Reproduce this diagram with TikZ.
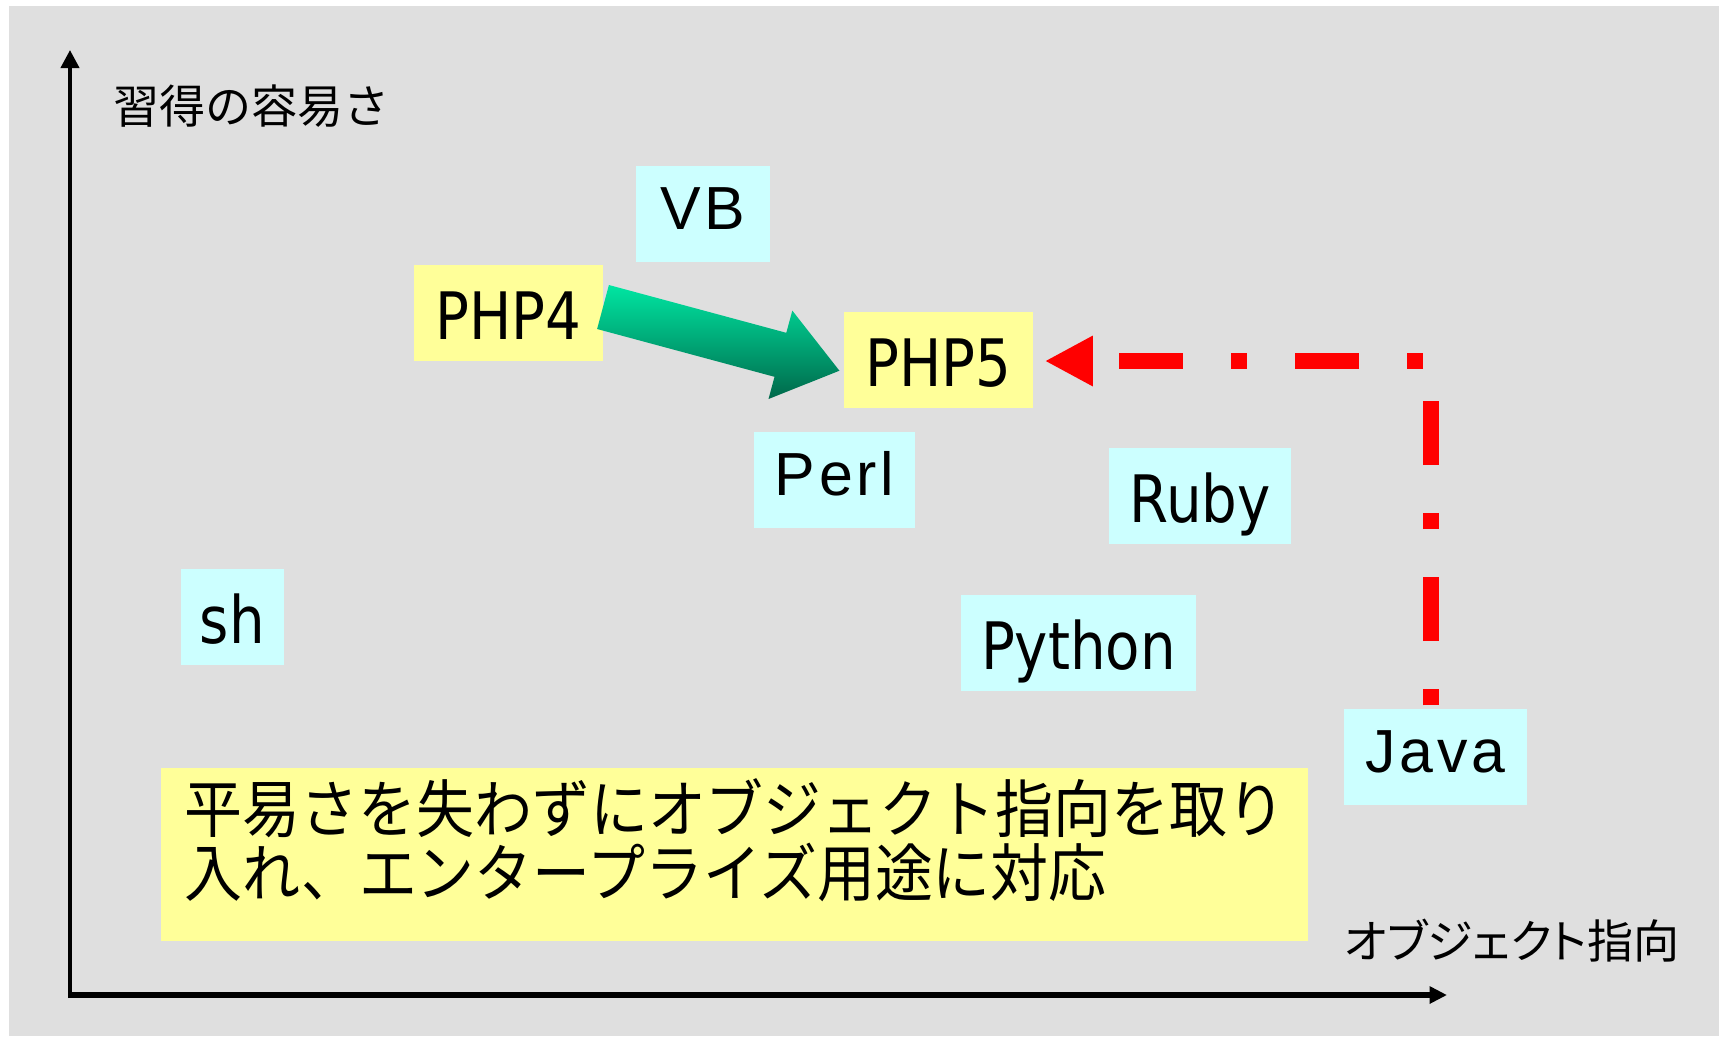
\documentclass[tikz,border=0pt]{standalone}
\usepackage{fontspec}
\usetikzlibrary{arrows.meta}
\setmainfont{Liberation Sans}
\newfontfamily\tahfont{DejaVu Sans}[FakeStretch=0.86]
\newfontfamily\arlfont{Liberation Sans}[LetterSpace=6]
\newfontfamily\jpfont{Noto Sans CJK JP}
\newfontfamily\jpnarrowfont{Noto Sans CJK JP}[FakeStretch=0.92]
\newfontfamily\jppfont{Noto Sans CJK JP}[RawFeature=+palt]
\definecolor{bggray}{RGB}{223,223,223}
\definecolor{boxcyan}{RGB}{204,255,255}
\definecolor{boxyel}{RGB}{255,255,153}
\definecolor{arrowtop}{RGB}{0,230,162}
\definecolor{arrowbot}{RGB}{0,104,74}
\definecolor{conred}{RGB}{255,0,0}
\tikzset{
  box/.style={rectangle, inner sep=0pt, minimum height=0.96cm},
  cyanbox/.style={box, fill=boxcyan},
  yelbox/.style={box, fill=boxyel},
  tah/.style={font=\tahfont\fontsize{18.6pt}{22pt}\selectfont, text height=0.585cm, text depth=0.052cm},
  arl/.style={font=\arlfont\fontsize{17.3pt}{21pt}\selectfont, text height=0.424cm, text depth=0.121cm},
  axisline/.style={black},
  redcon/.style={conred, line width=0.16cm, dash pattern=on 0.16cm off 0.48cm on 0.64cm off 0.48cm, -{Triangle[length=0.48cm, width=0.47cm]}},
  jplabel/.style={anchor=base, inner sep=0pt}
}
\begin{document}
\begin{tikzpicture}[x=0.01cm, y=-0.01cm]
\useasboundingbox (0,0) rectangle (1719,1036);
\fill[white] (0,0) rectangle (1719,1036);
\fill[bggray] (9,6) rectangle (1719,1036);

% axes
\coordinate (ybot) at (70,998);
\coordinate (ytop) at (70,50);
\coordinate (xleft) at (68,995);
\coordinate (xright) at (1447,995);
\draw[axisline, line width=0.04cm, -{Triangle[length=0.18cm, width=0.18cm]}] (ybot) -- (ytop);
\draw[axisline, line width=0.06cm, -{Triangle[length=0.175cm, width=0.166cm]}] (xleft) -- (xright);

\node[jplabel, font=\jpfont\fontsize{13.1pt}{14pt}\selectfont] (ylab) at (251.5,123) {習得の容易さ};
\node[jplabel, font=\jppfont\fontsize{13.1pt}{14pt}\selectfont] (xlab) at (1512,958) {オブジェクト指向};

% language boxes
\node[cyanbox, arl, minimum width=1.34cm] (vb) at (703,214) {VB};
\node[yelbox, tah, minimum width=1.89cm] (php4) at (508.5,313) {PHP4};
\node[yelbox, tah, minimum width=1.89cm] (php5) at (938.5,360) {PHP5};
\node[cyanbox, arl, minimum width=1.61cm] (perl) at (834.5,480) {Perl};
\node[cyanbox, tah, minimum width=1.82cm] (ruby) at (1200,496) {Ruby};
\node[cyanbox, tah, minimum width=1.03cm] (sh) at (232.3,617) {sh};
\node[cyanbox, tah, minimum width=2.35cm] (python) at (1078.5,643) {Python};
\node[cyanbox, arl, minimum width=1.83cm] (java) at (1435.5,757) {Java};

% note box
\node[yelbox, minimum width=11.465cm, minimum height=1.73cm] (note) at (734.75,854.5) {};
\node[anchor=base west, align=left, inner sep=0pt, font=\jpnarrowfont\fontsize{17.9pt}{18.2pt}\selectfont] (notetext) at (184,896) {平易さを失わずにオブジェクト指向を取り\\入れ、エンタープライズ用途に対応};

% green block arrow PHP4 -> PHP5
\shade[top color=arrowtop, bottom color=arrowbot]
  (608.9,285.0) -- (786.3,332.8) -- (792.3,310.6) -- (839.4,370.7)
  -- (768.5,399.0) -- (774.5,376.8) -- (597.1,329.0) -- cycle;

% red dash-dot connector Java -> PHP5
\coordinate (jtop) at ([xshift=-0.045cm, yshift=0.03cm]java.north);
\coordinate (ptip) at ([xshift=0.11cm, yshift=-0.01cm]php5.east);
\draw[redcon] (jtop) |- (ptip);
\end{tikzpicture}
\end{document}
